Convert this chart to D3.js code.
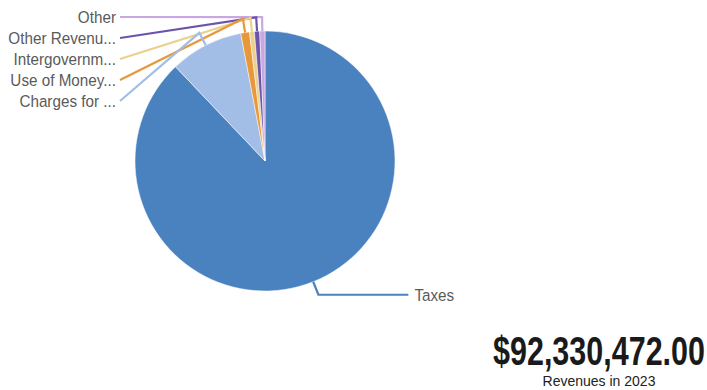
<!DOCTYPE html>
<html>
<head>
<meta charset="utf-8">
<script src="https://cdn.jsdelivr.net/npm/d3@7"></script>
<style>
  body { margin: 0; background: #fff; }
  svg { display: block; }
</style>
</head>
<body>
<svg id="chart" width="707" height="390"></svg>
<script>
// revenue categories and amounts (2023)
const categories = ["Taxes", "Charges for Services", "Use of Money and Property", "Intergovernmental", "Other Revenues", "Other"];
const shortLabels = ["Taxes", "Charges for ...", "Use of Money...", "Intergovernm...", "Other Revenu...", "Other"];
const amounts = [81170000, 8400000, 1000000, 560000, 600000, 600472];
const colors = ["#4a82c0", "#a2bde6", "#e8973a", "#ebd08e", "#6b55a9", "#c9a7e0"];
const totalLabel = "$92,330,472.00";
const subtitle = "Revenues in 2023";

const width = 707, height = 390;
const cx = 265, cy = 161, r = 130;
const svg = d3.select("#chart");

const data = categories.map(function(c, i) {
    return { name: c, label: shortLabels[i], value: amounts[i], color: colors[i] };
});

const pie = d3.pie().sort(null).value(function(d) { return d.value; });
const arcs = pie(data);
const arc = d3.arc().innerRadius(0).outerRadius(r);

const g = svg.append("g").attr("transform", "translate(" + cx + "," + cy + ")");

g.selectAll("path.slice")
    .data(arcs)
    .enter().append("path")
    .attr("class", "slice")
    .attr("d", arc)
    .attr("fill", function(d) { return d.data.color; })
    .attr("stroke", "#fff")
    .attr("stroke-width", 0.5);

// point on a circle at the slice's mid angle
function polar(a, rad) { return [rad * Math.sin(a), -rad * Math.cos(a)]; }

// left-side labels stack from the top, last slice first
const leftTop = 17 - cy, leftStep = 21, labelRight = 116 - cx;
const small = arcs.slice(1).reverse();

const conn = [];
small.forEach(function(d, i) {
    const a = (d.startAngle + d.endAngle) / 2;
    const y = leftTop + i * leftStep;
    conn.push({ d: d, pts: [polar(a, r), polar(a, r + 14), [labelRight + 4, y]], lx: labelRight, ly: y, anchor: "end" });
});
// Taxes on the lower right
(function() {
    const d = arcs[0];
    const a = (d.startAngle + d.endAngle) / 2;
    const e = polar(a, r + 14);
    conn.push({ d: d, pts: [polar(a, r), e, [e[0] + 90, e[1]]], lx: e[0] + 96, ly: e[1] + 1, anchor: "start" });
})();

const line = d3.line();
g.selectAll("path.conn")
    .data(conn)
    .enter().append("path")
    .attr("class", "conn")
    .attr("d", function(c) { return line(c.pts); })
    .attr("fill", "none")
    .attr("stroke", function(c) { return c.d.data.color; })
    .attr("stroke-width", 2.2);

// labels: a slightly narrow sans, squeezed a touch
g.selectAll("text.lbl")
    .data(conn)
    .enter().append("text")
    .attr("class", "lbl")
    .attr("transform", function(c) { return "translate(" + c.lx + "," + c.ly + ") scale(0.925,1)"; })
    .attr("text-anchor", function(c) { return c.anchor; })
    .attr("dominant-baseline", "central")
    .style("font-family", "'Liberation Sans', Arial, sans-serif")
    .style("font-size", "16.5px")
    .style("fill", "#5a5a5a")
    .text(function(c) { return c.d.data.label; });

// total, squeezed like a condensed face
const total = svg.append("text")
    .attr("text-anchor", "middle")
    .style("font-family", "'Liberation Sans', Arial, sans-serif")
    .style("font-weight", "bold")
    .style("font-size", "41px")
    .style("fill", "#1a1a1a")
    .text(totalLabel);
const sx = 212 / total.node().getComputedTextLength();
total.attr("transform", "translate(599,365) scale(" + sx + ",1)");

svg.append("text")
    .attr("x", 599).attr("y", 386)
    .attr("text-anchor", "middle")
    .style("font-family", "'Liberation Sans', Arial, sans-serif")
    .style("font-size", "14px")
    .style("fill", "#222")
    .text(subtitle);
</script>
</body>
</html>
